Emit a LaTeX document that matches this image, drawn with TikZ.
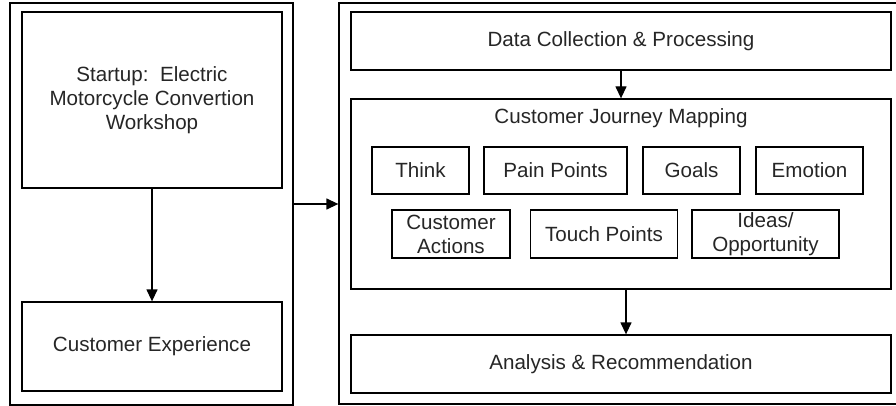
\documentclass[tikz,border=0pt]{standalone}
\usepackage{fontspec}
\setmainfont{Liberation Sans}
\usetikzlibrary{arrows.meta}
\begin{document}
\begin{tikzpicture}[x=1pt,y=-1pt,
  box/.style={draw=black, line width=1.3pt, rectangle, inner sep=0pt,
    align=center, text=black!85, font=\fontsize{20.6}{24}\selectfont},
  lbl/.style={inner sep=0pt, align=center, text=black!85,
    font=\fontsize{20.6}{24}\selectfont},
  conn/.style={draw=black, line width=1.3pt,
    -{Triangle[length=12pt,width=11pt]}}]
\useasboundingbox (0,0) rectangle (896,406);

% left column
\node[box, minimum width=283pt, minimum height=402pt] (leftouter) at (151.5,204) {};
\node[box, minimum width=260pt, minimum height=176pt] (startup) at (152,100)
  {Startup:\ \ Electric\\Motorcycle Convertion\\Workshop};
\node[box, minimum width=260pt, minimum height=89pt] (cx) at (152,346.5)
  {Customer Experience};

% right column
\node[box, minimum width=566pt, minimum height=401pt] (rightouter) at (622,203.5) {};
\node[box, minimum width=540pt, minimum height=58pt] (data) at (621,41)
  {Data Collection \& Processing};
\node[box, minimum width=540pt, minimum height=190pt] (cjm) at (621,194) {};
\node[lbl] (cjmlabel) at (621,118) {Customer Journey Mapping};
\node[box, minimum width=540pt, minimum height=58pt] (analysis) at (621,364)
  {Analysis \& Recommendation};

% journey mapping elements, first row
\node[box, minimum width=97pt, minimum height=47pt] (think) at (420.5,170.5) {Think};
\node[box, minimum width=143pt, minimum height=47pt] (pain) at (555.5,170.5) {Pain Points};
\node[box, minimum width=97pt, minimum height=47pt] (goals) at (691.5,170.5) {Goals};
\node[box, minimum width=107pt, minimum height=47pt] (emotion) at (809.5,170.5) {Emotion};

% second row
\node[box, minimum width=118pt, minimum height=48pt] (actions) at (451,234)
  {Customer\\Actions};
\node[box, minimum width=147pt, minimum height=48pt] (touch) at (604,234) {Touch Points};
\node[box, minimum width=147pt, minimum height=48pt] (ideas) at (765.5,234)
  {Ideas/\\Opportunity};

% connectors
\draw[conn] (startup.south) -- (cx.north);
\draw[conn] (leftouter.east) -- (leftouter.east -| rightouter.west);
\draw[conn] (data.south) -- (cjm.north);
\draw[conn] ([xshift=5pt]cjm.south) -- ([xshift=5pt]analysis.north);
\end{tikzpicture}
\end{document}
